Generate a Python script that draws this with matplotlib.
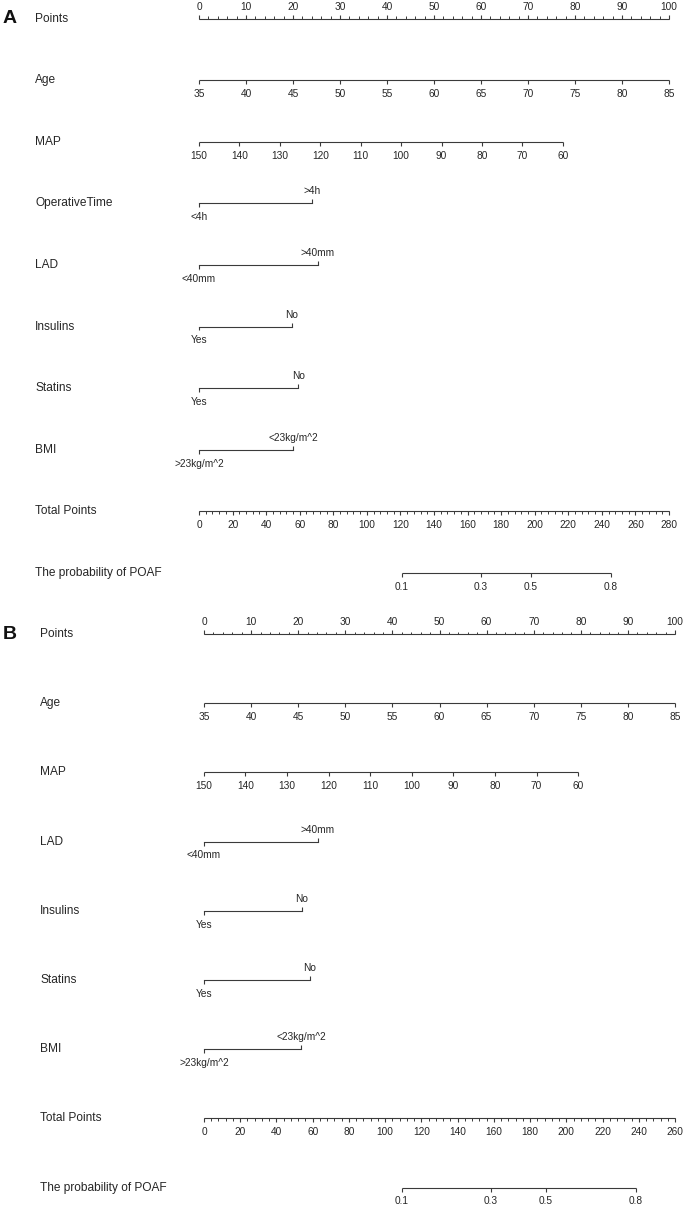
import numpy as np
import matplotlib.pyplot as plt

plt.rcParams['font.family'] = ['Liberation Sans', 'DejaVu Sans']

LC = '#3a3a3a'   # line colour
TC = '#262626'   # text colour

# ---- Panel A (model with operative time) ----
a_rows = ['Points', 'Age', 'MAP', 'OperativeTime', 'LAD', 'Insulins', 'Statins',
          'BMI', 'Total Points', 'The probability of POAF']
a_age = [35, 40, 45, 50, 55, 60, 65, 70, 75, 80, 85]
a_age_pts = [0, 10, 20, 30, 40, 50, 60, 70, 80, 90, 100]
a_map = [150, 140, 130, 120, 110, 100, 90, 80, 70, 60]
a_map_pts = [0, 8.6, 17.2, 25.8, 34.4, 43.0, 51.6, 60.2, 68.8, 77.4]
a_optime = ['<4h', '>4h']
a_optime_pts = [0, 24.0]
a_lad = ['<40mm', '>40mm']
a_lad_pts = [0, 25.3]
a_insulin = ['Yes', 'No']
a_insulin_pts = [0, 19.8]
a_statin = ['Yes', 'No']
a_statin_pts = [0, 21.1]
a_bmi = ['>23kg/m^2', '<23kg/m^2']
a_bmi_pts = [0, 20.0]
a_total_max = 280
a_prob = ['0.1', '0.3', '0.5', '0.8']
a_prob_total = [120.9, 168.0, 197.5, 245.4]

# ---- Panel B (model without operative time) ----
b_rows = ['Points', 'Age', 'MAP', 'LAD', 'Insulins', 'Statins', 'BMI',
          'Total Points', 'The probability of POAF']
b_age = [35, 40, 45, 50, 55, 60, 65, 70, 75, 80, 85]
b_age_pts = [0, 10, 20, 30, 40, 50, 60, 70, 80, 90, 100]
b_map = [150, 140, 130, 120, 110, 100, 90, 80, 70, 60]
b_map_pts = [0, 8.8, 17.6, 26.5, 35.3, 44.1, 52.9, 61.8, 70.6, 79.4]
b_lad = ['<40mm', '>40mm']
b_lad_pts = [0, 24.2]
b_insulin = ['Yes', 'No']
b_insulin_pts = [0, 20.8]
b_statin = ['Yes', 'No']
b_statin_pts = [0, 22.5]
b_bmi = ['>23kg/m^2', '<23kg/m^2']
b_bmi_pts = [0, 20.6]
b_total_max = 260
b_prob = ['0.1', '0.3', '0.5', '0.8']
b_prob_total = [109.3, 158.2, 188.8, 238.5]

W, H = 685, 1206
fig = plt.figure(figsize=(W / 100, H / 100), dpi=100)


def make_axes(top, bottom, x0, px_per_pt, y0, row_px):
    ax = fig.add_axes([0, 1 - bottom / H, 1, (bottom - top) / H])
    ax.set_xlim(-x0 / px_per_pt, (W - x0) / px_per_pt)
    ax.set_ylim((bottom - y0) / row_px, (top - y0) / row_px)
    ax.axis('off')
    ax.row_px = row_px
    ax.px_per_pt = px_per_pt
    return ax


def label(ax, x, y, s, up):
    off = 8.6 if up else -10.0
    ax.annotate(s, (x, y), xytext=(0, off), textcoords='offset points',
                ha='center', va='center', fontsize=7.3, color=TC)


def scale(ax, y, xs, labels, up=False, minor=None):
    d = -1 if up else 1
    L = 4.0 / ax.row_px
    ax.plot([min(xs), max(xs)], [y, y], color=LC, lw=0.8, solid_capstyle='butt')
    ax.vlines(xs, y, y + d * L, color=LC, lw=0.8)
    if minor is not None:
        ax.vlines(minor, y, y + d * L * 0.55, color=LC, lw=0.7)
    for x, s in zip(xs, labels):
        label(ax, x, y, s, up)


def factor(ax, y, xs, labels):
    L = 4.0 / ax.row_px
    ax.plot([xs[0], xs[-1]], [y, y], color=LC, lw=0.8)
    for i, (x, s) in enumerate(zip(xs, labels)):
        up = i % 2 == 1
        ax.vlines(x, y, y + (-L if up else L), color=LC, lw=0.8)
        label(ax, x, y, s, up)


def panel(ax, letter, rows, label_px, letter_px, variables, total_max, prob, prob_total):
    x_left = ax.get_xlim()[0]
    for i, name in enumerate(rows):
        ax.text(label_px / ax.px_per_pt + x_left, i, name,
                ha='left', va='center', fontsize=8.6, color=TC)
    ax.text(letter_px / ax.px_per_pt + x_left, 0, letter, ha='left', va='center',
            fontsize=14, fontweight='bold', color='#111111')
    # Points
    pts = np.arange(0, 101, 10)
    scale(ax, 0, pts, [str(p) for p in pts], up=True, minor=np.arange(0, 101, 2))
    for i, (kind, vals, p) in enumerate(variables, start=1):
        if kind == 'num':
            scale(ax, i, p, [str(v) for v in vals])
        else:
            factor(ax, i, p, vals)
    n = len(rows)
    tot = np.arange(0, total_max + 1, 20)
    scale(ax, n - 2, tot * 100 / total_max, [str(t) for t in tot],
          minor=np.arange(0, total_max + 1, 4) * 100 / total_max)
    scale(ax, n - 1, np.array(prob_total) * 100 / total_max, prob)


axA = make_axes(0, 600, 199, 4.70, 18.5, 61.6)
panel(axA, 'A', a_rows, 35, 3, [
    ('num', a_age, a_age_pts),
    ('num', a_map, a_map_pts),
    ('cat', a_optime, a_optime_pts),
    ('cat', a_lad, a_lad_pts),
    ('cat', a_insulin, a_insulin_pts),
    ('cat', a_statin, a_statin_pts),
    ('cat', a_bmi, a_bmi_pts),
], a_total_max, a_prob, a_prob_total)

axB = make_axes(600, 1206, 204, 4.71, 634, 69.2)
panel(axB, 'B', b_rows, 40, 3, [
    ('num', b_age, b_age_pts),
    ('num', b_map, b_map_pts),
    ('cat', b_lad, b_lad_pts),
    ('cat', b_insulin, b_insulin_pts),
    ('cat', b_statin, b_statin_pts),
    ('cat', b_bmi, b_bmi_pts),
], b_total_max, b_prob, b_prob_total)

fig.savefig('out.png', dpi=100)
